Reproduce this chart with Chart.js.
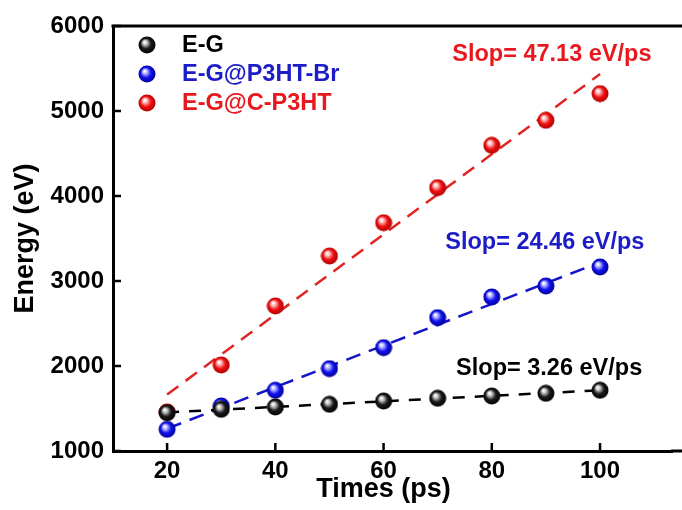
<!DOCTYPE html>
<html>
<head>
<meta charset="utf-8">
<script src="https://cdn.jsdelivr.net/npm/chart.js@4/dist/chart.umd.min.js"></script>
<style>html,body{margin:0;padding:0;background:#fff}</style>
</head>
<body>
<canvas id="c" width="682" height="510"></canvas>
<script>
// valori
const times = [20, 30, 40, 50, 60, 70, 80, 90, 100];
const energyEG = [1450, 1490, 1518, 1549, 1588, 1620, 1647, 1678, 1714];
const energyBr = [1255, 1530, 1714, 1969, 2216, 2569, 2812, 2941, 3165];
const energyC = [1459, 2012, 2706, 3294, 3686, 4098, 4596, 4890, 5204];
// rette di fit (estremi)
const fitX = [20, 100];
const fitEG = [1454, 1714];
const fitBr = [1263, 3219];
const fitC = [1664, 5434];
const xTicks = [20, 40, 60, 80, 100];
const seriesNames = ['E-G', 'E-G@P3HT-Br', 'E-G@C-P3HT'];
const slopeTexts = ['Slop= 3.26 eV/ps', 'Slop= 24.46 eV/ps', 'Slop= 47.13 eV/ps'];
const xTitle = 'Times (ps)';

const COL = {
  black: { text: '#000000', line: '#000000', hi: '#c8c8c8', mid: '#1a1a1a', edge: '#000000' },
  blue:  { text: '#1c1cc8', line: '#1414c8', hi: '#b8bcff', mid: '#1010f0', edge: '#00008c' },
  red:   { text: '#e8191e', line: '#e02424', hi: '#ffc0c0', mid: '#f01010', edge: '#a80000' }
};
const FAMILY = '"Liberation Sans", Arial, sans-serif';
const FONT = 'bold 23.5px ' + FAMILY;

// sferette per i marker
function sphere(c) {
  const cv = document.createElement('canvas');
  cv.width = 18; cv.height = 18;
  const g = cv.getContext('2d');
  const grad = g.createRadialGradient(6.5, 6, 0.5, 9, 9, 9);
  grad.addColorStop(0, '#ffffff');
  grad.addColorStop(0.2, c.hi);
  grad.addColorStop(0.55, c.mid);
  grad.addColorStop(1, c.edge);
  g.fillStyle = grad;
  g.beginPath();
  g.arc(9, 9, 8.5, 0, Math.PI * 2);
  g.fill();
  return cv;
}
const balls = [sphere(COL.black), sphere(COL.blue), sphere(COL.red)];
const cols = [COL.black, COL.blue, COL.red];

const pts = (ys) => times.map((t, i) => ({ x: t, y: ys[i] }));
const fit = (ys) => fitX.map((t, i) => ({ x: t, y: ys[i] }));

function scatterSet(label, ys, k) {
  return {
    type: 'scatter', label: label, data: pts(ys), order: 1,
    pointStyle: balls[k], pointRadius: 9, pointHoverRadius: 9, showLine: false
  };
}
function fitSet(ys, k, dash) {
  return {
    type: 'line', label: 'fit' + k, data: fit(ys), order: 2,
    borderColor: cols[k].line, borderWidth: 2.5, borderDash: dash,
    pointRadius: 0, fill: false, tension: 0
  };
}

// tacche interne, bordo superiore, legenda, titolo x e testi delle pendenze
const extras = {
  id: 'extras',
  afterDatasetsDraw(chart) {
    const ctx = chart.ctx, a = chart.chartArea;
    const sx = chart.scales.x, sy = chart.scales.y;
    ctx.save();
    ctx.strokeStyle = '#000';
    ctx.lineWidth = 2.5;
    ctx.beginPath();
    xTicks.forEach(v => {
      const px = sx.getPixelForValue(v);
      ctx.moveTo(px, a.bottom); ctx.lineTo(px, a.bottom - 8);
    });
    sy.ticks.forEach(t => {
      const py = sy.getPixelForValue(t.value);
      ctx.moveTo(a.left, py); ctx.lineTo(a.left + 8, py);
    });
    ctx.stroke();
    // il riquadro prosegue oltre il bordo destro
    ctx.lineWidth = 3;
    ctx.beginPath();
    ctx.moveTo(a.left - 1.5, a.top); ctx.lineTo(chart.width, a.top);
    ctx.moveTo(a.right - 1, a.bottom); ctx.lineTo(chart.width, a.bottom);
    ctx.stroke();

    // legenda
    ctx.font = FONT;
    ctx.textBaseline = 'middle';
    ctx.textAlign = 'left';
    seriesNames.forEach((n, k) => {
      const y = a.top + 19 + k * 29;
      ctx.drawImage(balls[k], a.left + 25, y - 9);
      ctx.fillStyle = cols[k].text;
      ctx.fillText(n, a.left + 69, y + 1);
    });

    // pendenze
    const pos = chart.options.plugins.extras.labels;
    ctx.textAlign = 'center';
    slopeTexts.forEach((s, k) => {
      ctx.fillStyle = cols[k].text;
      ctx.fillText(s, sx.getPixelForValue(pos[k][0]), sy.getPixelForValue(pos[k][1]));
    });

    // titolo asse x, centrato sotto il valore 60
    ctx.fillStyle = '#000';
    ctx.font = 'bold 27px ' + FAMILY;
    ctx.fillText(xTitle, sx.getPixelForValue(chart.options.plugins.extras.xTitleAt), chart.height - 20);
    ctx.restore();
  }
};

new Chart(document.getElementById('c'), {
  data: {
    datasets: [
      scatterSet(seriesNames[0], energyEG, 0),
      scatterSet(seriesNames[1], energyBr, 1),
      scatterSet(seriesNames[2], energyC, 2),
      fitSet(fitEG, 0, [12, 10]),
      fitSet(fitBr, 1, [15, 9]),
      fitSet(fitC, 2, [14, 9])
    ]
  },
  options: {
    responsive: false,
    animation: false,
    layout: { padding: { top: 26, right: 0, left: 0, bottom: 0 } },
    plugins: {
      legend: { display: false },
      tooltip: { enabled: false },
      extras: { labels: [[90.6, 1976], [89.8, 3447], [91.1, 5659]], xTitleAt: 60 }
    },
    scales: {
      x: {
        type: 'linear', position: 'bottom', min: 10, max: 113.3,
        afterBuildTicks: (s) => { s.ticks = xTicks.map(v => ({ value: v })); },
        afterFit: (s) => { s.height = 59; },
        grid: { display: false, drawTicks: false },
        border: { display: true, color: '#000', width: 3 },
        ticks: { color: '#000', padding: 6, maxRotation: 0,
          font: { family: FAMILY, size: 24, weight: 'bold' } },
        title: { display: false }
      },
      y: {
        type: 'linear', min: 1000, max: 6000,
        afterFit: (s) => { s.width = 113; },
        grid: { display: false, drawTicks: false },
        border: { display: true, color: '#000', width: 3 },
        ticks: { color: '#000', padding: 9, stepSize: 1000,
          callback: (v) => String(v),
          font: { family: FAMILY, size: 24, weight: 'bold' } },
        title: { display: true, text: 'Energy (eV)', color: '#000', padding: { top: 9, bottom: 0 },
          font: { family: FAMILY, size: 27, weight: 'bold' } }
      }
    }
  },
  plugins: [extras]
});
</script>
</body>
</html>
